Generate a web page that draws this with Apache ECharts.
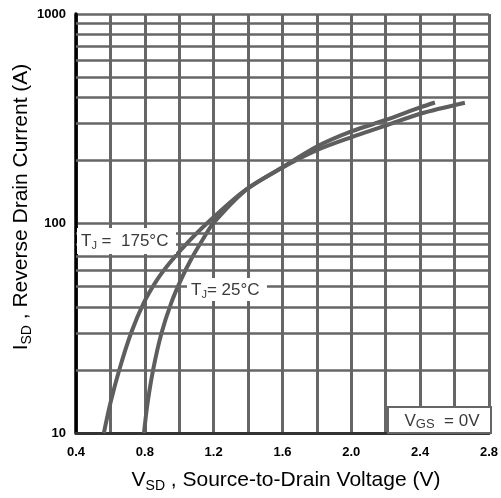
<!DOCTYPE html>
<html><head><meta charset="utf-8">
<script src="https://cdn.jsdelivr.net/npm/echarts/dist/echarts.min.js"></script>
<style>html,body{margin:0;padding:0;background:#fff}#c{width:501px;height:498px}</style>
</head><body><div id="c"></div>
<script>
// Data
const voltage175 = [0.562, 0.600, 0.653, 0.720, 0.793, 0.870, 0.944, 1.035, 1.157, 1.376, 1.595, 1.8, 2.0, 2.2, 2.4, 2.66];
const current175 = [10, 13.9, 20.2, 30, 41.7, 53.7, 64.8, 78.9, 99.5, 142.9, 184, 224, 258, 293, 334, 377];
const voltage25 = [0.795, 0.816, 0.849, 0.897, 0.953, 1.009, 1.073, 1.135, 1.199, 1.390, 1.593, 1.8, 2.0, 2.2, 2.4, 2.486];
const current25 = [10, 13.9, 20.2, 30, 41.7, 53.7, 68.4, 83.4, 100.5, 145.1, 184, 233, 275, 312, 358, 378];
const minorCurrents = [20, 30, 40, 50, 60, 70, 80, 90, 200, 300, 400, 500, 600, 700, 800, 900];
const xTickLabels = ['0.4', '0.8', '1.2', '1.6', '2.0', '2.4', '2.8'];
const yTickLabels = ['10', '100', '1000'];

const GRID = '#666666';
const CURVE = '#5e5e5e';
const FONT = 'Liberation Sans';
const LBL = '#3a3a3a';

function pairs(xs, ys) { return xs.map((x, i) => [x, ys[i]]); }

const chart = echarts.init(document.getElementById('c'), null, {renderer: 'canvas'});
chart.setOption({
  animation: false,
  backgroundColor: '#fff',
  grid: {left: 76, right: 10, top: 14, bottom: 65, containLabel: false},
  xAxis: {
    type: 'value', min: 0.4, max: 2.8, interval: 0.2,
    axisLine: {show: true, lineStyle: {color: '#333', width: 3}},
    axisTick: {show: false},
    splitLine: {show: true, lineStyle: {color: GRID, width: 3}},
    axisLabel: {
      margin: 13, color: '#000', fontFamily: FONT, fontWeight: 'bold', fontSize: 13,
      formatter: v => { const s = v.toFixed(1); return xTickLabels.indexOf(s) >= 0 ? s : ''; }
    }
  },
  yAxis: {
    type: 'log', logBase: 10, min: 10, max: 1000,
    axisLine: {show: true, lineStyle: {color: '#000', width: 3.5}},
    axisTick: {show: false},
    splitLine: {show: true, lineStyle: {color: GRID, width: 2.5}},
    axisLabel: {
      margin: 10, color: '#000', fontFamily: FONT, fontWeight: 'bold', fontSize: 13,
      formatter: v => { const s = String(Math.round(v)); return yTickLabels.indexOf(s) >= 0 ? s : ''; }
    }
  },
  series: [
    {
      type: 'line', data: [], z: 1, silent: true,
      markLine: {
        silent: true, symbol: ['none', 'none'], label: {show: false},
        lineStyle: {color: GRID, width: 2.5, type: 'solid'},
        emphasis: {disabled: true},
        data: minorCurrents.map(v => ({yAxis: v}))
      }
    },
    {
      name: 'TJ = 175°C', type: 'line', smooth: 0.3, symbol: 'none', z: 3,
      lineStyle: {color: CURVE, width: 4},
      data: pairs(voltage175, current175)
    },
    {
      name: 'TJ = 25°C', type: 'line', smooth: 0.3, symbol: 'none', z: 3,
      lineStyle: {color: CURVE, width: 4},
      data: pairs(voltage25, current25)
    }
  ],
  graphic: [
    {type: 'rect', z: 50, shape: {x: 77, y: 228, width: 99, height: 26}, style: {fill: '#fff'}},
    {type: 'text', z: 51, x: 81, y: 241, style: {
      text: '{t|T}{s|J}{t| =  175°C}', verticalAlign: 'middle', align: 'left',
      rich: {t: {fontSize: 17, fontFamily: FONT, fill: LBL, lineHeight: 20, verticalAlign: 'middle'},
             s: {fontSize: 11, fontFamily: FONT, fill: LBL, verticalAlign: 'bottom'}}}},
    {type: 'rect', z: 50, shape: {x: 187, y: 278, width: 80, height: 23}, style: {fill: '#fff'}},
    {type: 'text', z: 51, x: 191, y: 290, style: {
      text: '{t|T}{s|J}{t|= 25°C}', verticalAlign: 'middle', align: 'left',
      rich: {t: {fontSize: 17, fontFamily: FONT, fill: LBL, lineHeight: 20, verticalAlign: 'middle'},
             s: {fontSize: 11, fontFamily: FONT, fill: LBL, verticalAlign: 'bottom'}}}},
    {type: 'rect', z: 50, shape: {x: 388, y: 407, width: 103, height: 26}, style: {fill: '#fff', stroke: GRID, lineWidth: 2}},
    {type: 'text', z: 51, x: 442, y: 421, style: {
      text: '{t|V}{s|GS}{t|  = 0V}', verticalAlign: 'middle', align: 'center',
      rich: {t: {fontSize: 17, fontFamily: FONT, fill: LBL, lineHeight: 20, verticalAlign: 'middle'},
             s: {fontSize: 13, fontFamily: FONT, fill: LBL, verticalAlign: 'bottom'}}}},
    {type: 'text', z: 51, x: 286, y: 480, style: {
      text: '{t|V}{s|SD}{t| , Source-to-Drain Voltage (V)}', verticalAlign: 'middle', align: 'center',
      rich: {t: {fontSize: 21, fontFamily: FONT, fill: '#000', lineHeight: 26, verticalAlign: 'middle'},
             s: {fontSize: 14, fontFamily: FONT, fill: '#000', verticalAlign: 'bottom'}}}},
    {type: 'text', z: 51, x: 21, y: 207, rotation: Math.PI / 2, style: {
      text: '{t|I}{s|SD}{t| , Reverse Drain Current (A)}', verticalAlign: 'middle', align: 'center',
      rich: {t: {fontSize: 21, fontFamily: FONT, fill: '#000', lineHeight: 26, verticalAlign: 'middle'},
             s: {fontSize: 14, fontFamily: FONT, fill: '#000', verticalAlign: 'bottom'}}}}
  ]
});
</script>
</body></html>
